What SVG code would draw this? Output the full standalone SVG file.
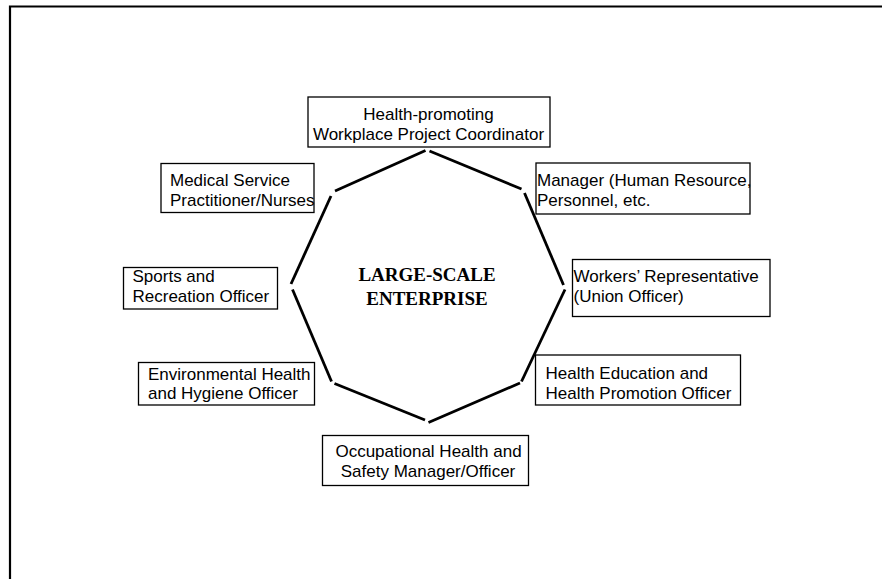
<svg xmlns="http://www.w3.org/2000/svg" width="882" height="579" viewBox="0 0 882 579">
  <style>
    .box { fill: #ffffff; stroke: #000000; stroke-width: 1.3; }
    .lbl { font-family: "Liberation Sans", Arial, sans-serif; font-size: 17px; fill: #000000; }
    .mid { text-anchor: middle; }
    .title { font-family: "Liberation Serif", "Times New Roman", serif; font-size: 19px; font-weight: bold; fill: #000000; text-anchor: middle; }
    .edge { stroke: #000000; stroke-width: 2.8; stroke-linecap: butt; fill: none; }
  </style>
  <rect width="882" height="579" fill="#ffffff"/>
  <!-- page frame -->
  <path d="M10 590 V6.5 H900" fill="none" stroke="#000000" stroke-width="2.2"/>

  <!-- octagon drawn as separate strokes -->
  <g id="connectors">
    <line class="edge" x1="335" y1="191" x2="425.5" y2="150.5"/>
    <line class="edge" x1="429.5" y1="151" x2="521.5" y2="189"/>
    <line class="edge" x1="524.5" y1="193" x2="563.5" y2="285"/>
    <line class="edge" x1="565" y1="289.5" x2="521.5" y2="381.5"/>
    <line class="edge" x1="520" y1="383" x2="428.5" y2="422.5"/>
    <line class="edge" x1="425" y1="420" x2="334.5" y2="383.5"/>
    <line class="edge" x1="331.5" y1="381.5" x2="292.5" y2="289.5"/>
    <line class="edge" x1="291" y1="284" x2="331" y2="196"/>
  </g>

  <g id="center">
    <text class="title" x="427" y="281">LARGE-SCALE</text>
    <text class="title" x="427" y="305">ENTERPRISE</text>
  </g>

  <g id="coordinator">
    <rect class="box" x="308" y="97" width="242" height="50"/>
    <text class="lbl mid" x="428.5" y="119.5">Health-promoting</text>
    <text class="lbl mid" x="428.5" y="139.5">Workplace Project Coordinator</text>
  </g>

  <g id="manager">
    <rect class="box" x="536" y="163" width="214" height="51"/>
    <text class="lbl" x="537" y="185.5">Manager (Human Resource,</text>
    <text class="lbl" x="537" y="205.5">Personnel, etc.</text>
  </g>

  <g id="workers">
    <rect class="box" x="572.5" y="259.5" width="197.5" height="57"/>
    <text class="lbl" x="573.5" y="281.5">Workers’ Representative</text>
    <text class="lbl" x="573.5" y="301.5">(Union Officer)</text>
  </g>

  <g id="health-education">
    <rect class="box" x="535.5" y="355" width="205" height="50"/>
    <text class="lbl" x="545.5" y="379">Health Education and</text>
    <text class="lbl" x="545.5" y="399">Health Promotion Officer</text>
  </g>

  <g id="ohs">
    <rect class="box" x="322.5" y="435.5" width="206" height="50"/>
    <text class="lbl mid" x="428.5" y="456.5">Occupational Health and</text>
    <text class="lbl mid" x="428" y="476.5">Safety Manager/Officer</text>
  </g>

  <g id="environmental">
    <rect class="box" x="138.5" y="362.5" width="176" height="42.5"/>
    <text class="lbl" x="148" y="379.5">Environmental Health</text>
    <text class="lbl" x="148" y="399">and Hygiene Officer</text>
  </g>

  <g id="sports">
    <rect class="box" x="123.5" y="267.5" width="154" height="41.5"/>
    <text class="lbl" x="132.5" y="282">Sports and</text>
    <text class="lbl" x="132.5" y="302">Recreation Officer</text>
  </g>

  <g id="medical">
    <rect class="box" x="161" y="163.5" width="153" height="49"/>
    <text class="lbl" x="170" y="185.5">Medical Service</text>
    <text class="lbl" x="170" y="205.5">Practitioner/Nurses</text>
  </g>
</svg>
